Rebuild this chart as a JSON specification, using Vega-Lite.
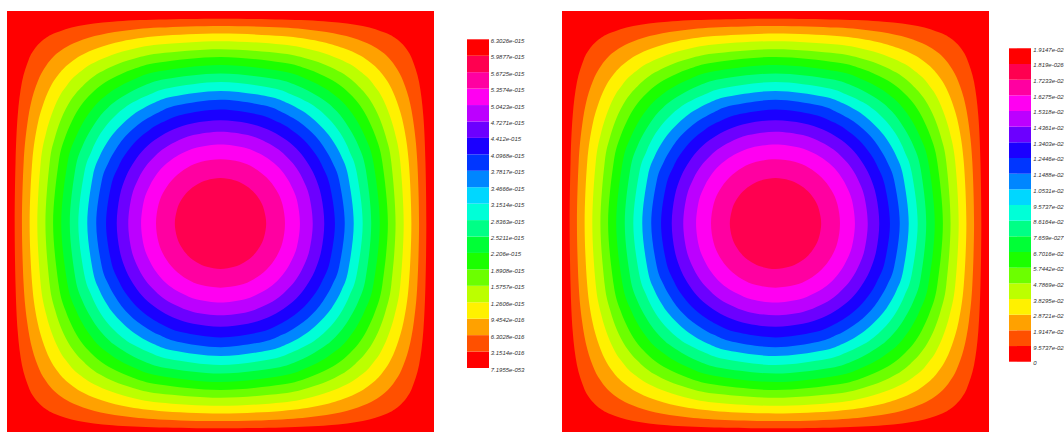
{
"$schema":"https://vega.github.io/schema/vega-lite/v6.json",
"background":"white",
"padding":{"left":7,"top":11,"right":0,"bottom":0},
"spacing":0,
"bounds":"flush",
"config":{"view":{"stroke":null},"concat":{"spacing":0}},
"datasets":{
"contours":[
{"k":1,"i":0,"x":18,"y":500},{"k":1,"i":1,"x":20,"y":356},{"k":1,"i":2,"x":25,"y":247},{"k":1,"i":3,"x":35,"y":167},{"k":1,"i":4,"x":51,"y":114},{"k":1,"i":5,"x":64,"y":90},{"k":1,"i":6,"x":76,"y":76},{"k":1,"i":7,"x":90,"y":64},{"k":1,"i":8,"x":114,"y":51},{"k":1,"i":9,"x":167,"y":35},{"k":1,"i":10,"x":247,"y":25},{"k":1,"i":11,"x":356,"y":20},{"k":1,"i":12,"x":500,"y":18},{"k":1,"i":13,"x":644,"y":20},{"k":1,"i":14,"x":753,"y":25},{"k":1,"i":15,"x":833,"y":35},{"k":1,"i":16,"x":886,"y":51},{"k":1,"i":17,"x":910,"y":64},{"k":1,"i":18,"x":924,"y":76},{"k":1,"i":19,"x":936,"y":90},{"k":1,"i":20,"x":949,"y":114},{"k":1,"i":21,"x":965,"y":167},{"k":1,"i":22,"x":975,"y":247},{"k":1,"i":23,"x":980,"y":356},{"k":1,"i":24,"x":982,"y":500},{"k":1,"i":25,"x":980,"y":644},{"k":1,"i":26,"x":975,"y":753},{"k":1,"i":27,"x":965,"y":833},{"k":1,"i":28,"x":949,"y":886},{"k":1,"i":29,"x":936,"y":910},{"k":1,"i":30,"x":924,"y":924},{"k":1,"i":31,"x":910,"y":936},{"k":1,"i":32,"x":886,"y":949},{"k":1,"i":33,"x":833,"y":965},{"k":1,"i":34,"x":753,"y":975},{"k":1,"i":35,"x":644,"y":980},{"k":1,"i":36,"x":500,"y":982},{"k":1,"i":37,"x":356,"y":980},{"k":1,"i":38,"x":247,"y":975},{"k":1,"i":39,"x":167,"y":965},{"k":1,"i":40,"x":114,"y":949},{"k":1,"i":41,"x":90,"y":936},{"k":1,"i":42,"x":76,"y":924},{"k":1,"i":43,"x":64,"y":910},{"k":1,"i":44,"x":51,"y":886},{"k":1,"i":45,"x":35,"y":833},{"k":1,"i":46,"x":25,"y":753},{"k":1,"i":47,"x":20,"y":644},
{"k":2,"i":0,"x":35,"y":500},{"k":2,"i":1,"x":39,"y":356},{"k":2,"i":2,"x":47,"y":270},{"k":2,"i":3,"x":59,"y":205},{"k":2,"i":4,"x":76,"y":156},{"k":2,"i":5,"x":92,"y":128},{"k":2,"i":6,"x":108,"y":108},{"k":2,"i":7,"x":128,"y":92},{"k":2,"i":8,"x":156,"y":76},{"k":2,"i":9,"x":205,"y":59},{"k":2,"i":10,"x":270,"y":47},{"k":2,"i":11,"x":356,"y":39},{"k":2,"i":12,"x":500,"y":35},{"k":2,"i":13,"x":644,"y":39},{"k":2,"i":14,"x":730,"y":47},{"k":2,"i":15,"x":795,"y":59},{"k":2,"i":16,"x":844,"y":76},{"k":2,"i":17,"x":872,"y":92},{"k":2,"i":18,"x":892,"y":108},{"k":2,"i":19,"x":908,"y":128},{"k":2,"i":20,"x":924,"y":156},{"k":2,"i":21,"x":941,"y":205},{"k":2,"i":22,"x":953,"y":270},{"k":2,"i":23,"x":961,"y":356},{"k":2,"i":24,"x":965,"y":500},{"k":2,"i":25,"x":961,"y":644},{"k":2,"i":26,"x":953,"y":730},{"k":2,"i":27,"x":941,"y":795},{"k":2,"i":28,"x":924,"y":844},{"k":2,"i":29,"x":908,"y":872},{"k":2,"i":30,"x":892,"y":892},{"k":2,"i":31,"x":872,"y":908},{"k":2,"i":32,"x":844,"y":924},{"k":2,"i":33,"x":795,"y":941},{"k":2,"i":34,"x":730,"y":953},{"k":2,"i":35,"x":644,"y":961},{"k":2,"i":36,"x":500,"y":965},{"k":2,"i":37,"x":356,"y":961},{"k":2,"i":38,"x":270,"y":953},{"k":2,"i":39,"x":205,"y":941},{"k":2,"i":40,"x":156,"y":924},{"k":2,"i":41,"x":128,"y":908},{"k":2,"i":42,"x":108,"y":892},{"k":2,"i":43,"x":92,"y":872},{"k":2,"i":44,"x":76,"y":844},{"k":2,"i":45,"x":59,"y":795},{"k":2,"i":46,"x":47,"y":730},{"k":2,"i":47,"x":39,"y":644},
{"k":3,"i":0,"x":53,"y":500},{"k":3,"i":1,"x":59,"y":356},{"k":3,"i":2,"x":71,"y":270},{"k":3,"i":3,"x":87,"y":213},{"k":3,"i":4,"x":104,"y":174},{"k":3,"i":5,"x":121,"y":149},{"k":3,"i":6,"x":134,"y":134},{"k":3,"i":7,"x":149,"y":121},{"k":3,"i":8,"x":174,"y":104},{"k":3,"i":9,"x":213,"y":87},{"k":3,"i":10,"x":270,"y":71},{"k":3,"i":11,"x":356,"y":59},{"k":3,"i":12,"x":500,"y":53},{"k":3,"i":13,"x":644,"y":59},{"k":3,"i":14,"x":730,"y":71},{"k":3,"i":15,"x":787,"y":87},{"k":3,"i":16,"x":826,"y":104},{"k":3,"i":17,"x":851,"y":121},{"k":3,"i":18,"x":866,"y":134},{"k":3,"i":19,"x":879,"y":149},{"k":3,"i":20,"x":896,"y":174},{"k":3,"i":21,"x":913,"y":213},{"k":3,"i":22,"x":929,"y":270},{"k":3,"i":23,"x":941,"y":356},{"k":3,"i":24,"x":947,"y":500},{"k":3,"i":25,"x":941,"y":644},{"k":3,"i":26,"x":929,"y":730},{"k":3,"i":27,"x":913,"y":787},{"k":3,"i":28,"x":896,"y":826},{"k":3,"i":29,"x":879,"y":851},{"k":3,"i":30,"x":866,"y":866},{"k":3,"i":31,"x":851,"y":879},{"k":3,"i":32,"x":826,"y":896},{"k":3,"i":33,"x":787,"y":913},{"k":3,"i":34,"x":730,"y":929},{"k":3,"i":35,"x":644,"y":941},{"k":3,"i":36,"x":500,"y":947},{"k":3,"i":37,"x":356,"y":941},{"k":3,"i":38,"x":270,"y":929},{"k":3,"i":39,"x":213,"y":913},{"k":3,"i":40,"x":174,"y":896},{"k":3,"i":41,"x":149,"y":879},{"k":3,"i":42,"x":134,"y":866},{"k":3,"i":43,"x":121,"y":851},{"k":3,"i":44,"x":104,"y":826},{"k":3,"i":45,"x":87,"y":787},{"k":3,"i":46,"x":71,"y":730},{"k":3,"i":47,"x":59,"y":644},
{"k":4,"i":0,"x":71,"y":500},{"k":4,"i":1,"x":79,"y":356},{"k":4,"i":2,"x":92,"y":285},{"k":4,"i":3,"x":108,"y":234},{"k":4,"i":4,"x":125,"y":197},{"k":4,"i":5,"x":141,"y":174},{"k":4,"i":6,"x":156,"y":156},{"k":4,"i":7,"x":174,"y":141},{"k":4,"i":8,"x":197,"y":125},{"k":4,"i":9,"x":234,"y":108},{"k":4,"i":10,"x":285,"y":92},{"k":4,"i":11,"x":356,"y":79},{"k":4,"i":12,"x":500,"y":71},{"k":4,"i":13,"x":644,"y":79},{"k":4,"i":14,"x":715,"y":92},{"k":4,"i":15,"x":766,"y":108},{"k":4,"i":16,"x":803,"y":125},{"k":4,"i":17,"x":826,"y":141},{"k":4,"i":18,"x":844,"y":156},{"k":4,"i":19,"x":859,"y":174},{"k":4,"i":20,"x":875,"y":197},{"k":4,"i":21,"x":892,"y":234},{"k":4,"i":22,"x":908,"y":285},{"k":4,"i":23,"x":921,"y":356},{"k":4,"i":24,"x":929,"y":500},{"k":4,"i":25,"x":921,"y":644},{"k":4,"i":26,"x":908,"y":715},{"k":4,"i":27,"x":892,"y":766},{"k":4,"i":28,"x":875,"y":803},{"k":4,"i":29,"x":859,"y":826},{"k":4,"i":30,"x":844,"y":844},{"k":4,"i":31,"x":826,"y":859},{"k":4,"i":32,"x":803,"y":875},{"k":4,"i":33,"x":766,"y":892},{"k":4,"i":34,"x":715,"y":908},{"k":4,"i":35,"x":644,"y":921},{"k":4,"i":36,"x":500,"y":929},{"k":4,"i":37,"x":356,"y":921},{"k":4,"i":38,"x":285,"y":908},{"k":4,"i":39,"x":234,"y":892},{"k":4,"i":40,"x":197,"y":875},{"k":4,"i":41,"x":174,"y":859},{"k":4,"i":42,"x":156,"y":844},{"k":4,"i":43,"x":141,"y":826},{"k":4,"i":44,"x":125,"y":803},{"k":4,"i":45,"x":108,"y":766},{"k":4,"i":46,"x":92,"y":715},{"k":4,"i":47,"x":79,"y":644},
{"k":5,"i":0,"x":90,"y":500},{"k":5,"i":1,"x":100,"y":356},{"k":5,"i":2,"x":113,"y":295},{"k":5,"i":3,"x":128,"y":251},{"k":5,"i":4,"x":145,"y":217},{"k":5,"i":5,"x":162,"y":193},{"k":5,"i":6,"x":177,"y":177},{"k":5,"i":7,"x":193,"y":162},{"k":5,"i":8,"x":217,"y":145},{"k":5,"i":9,"x":251,"y":128},{"k":5,"i":10,"x":295,"y":113},{"k":5,"i":11,"x":356,"y":100},{"k":5,"i":12,"x":500,"y":90},{"k":5,"i":13,"x":644,"y":100},{"k":5,"i":14,"x":705,"y":113},{"k":5,"i":15,"x":749,"y":128},{"k":5,"i":16,"x":783,"y":145},{"k":5,"i":17,"x":807,"y":162},{"k":5,"i":18,"x":823,"y":177},{"k":5,"i":19,"x":838,"y":193},{"k":5,"i":20,"x":855,"y":217},{"k":5,"i":21,"x":872,"y":251},{"k":5,"i":22,"x":887,"y":295},{"k":5,"i":23,"x":900,"y":356},{"k":5,"i":24,"x":910,"y":500},{"k":5,"i":25,"x":900,"y":644},{"k":5,"i":26,"x":887,"y":705},{"k":5,"i":27,"x":872,"y":749},{"k":5,"i":28,"x":855,"y":783},{"k":5,"i":29,"x":838,"y":807},{"k":5,"i":30,"x":823,"y":823},{"k":5,"i":31,"x":807,"y":838},{"k":5,"i":32,"x":783,"y":855},{"k":5,"i":33,"x":749,"y":872},{"k":5,"i":34,"x":705,"y":887},{"k":5,"i":35,"x":644,"y":900},{"k":5,"i":36,"x":500,"y":910},{"k":5,"i":37,"x":356,"y":900},{"k":5,"i":38,"x":295,"y":887},{"k":5,"i":39,"x":251,"y":872},{"k":5,"i":40,"x":217,"y":855},{"k":5,"i":41,"x":193,"y":838},{"k":5,"i":42,"x":177,"y":823},{"k":5,"i":43,"x":162,"y":807},{"k":5,"i":44,"x":145,"y":783},{"k":5,"i":45,"x":128,"y":749},{"k":5,"i":46,"x":113,"y":705},{"k":5,"i":47,"x":100,"y":644},
{"k":6,"i":0,"x":108,"y":500},{"k":6,"i":1,"x":121,"y":356},{"k":6,"i":2,"x":137,"y":295},{"k":6,"i":3,"x":158,"y":247},{"k":6,"i":4,"x":177,"y":217},{"k":6,"i":5,"x":196,"y":196},{"k":6,"i":6,"x":217,"y":177},{"k":6,"i":7,"x":247,"y":158},{"k":6,"i":8,"x":295,"y":137},{"k":6,"i":9,"x":356,"y":121},{"k":6,"i":10,"x":500,"y":108},{"k":6,"i":11,"x":644,"y":121},{"k":6,"i":12,"x":705,"y":137},{"k":6,"i":13,"x":753,"y":158},{"k":6,"i":14,"x":783,"y":177},{"k":6,"i":15,"x":804,"y":196},{"k":6,"i":16,"x":823,"y":217},{"k":6,"i":17,"x":842,"y":247},{"k":6,"i":18,"x":863,"y":295},{"k":6,"i":19,"x":879,"y":356},{"k":6,"i":20,"x":892,"y":500},{"k":6,"i":21,"x":879,"y":644},{"k":6,"i":22,"x":863,"y":705},{"k":6,"i":23,"x":842,"y":753},{"k":6,"i":24,"x":823,"y":783},{"k":6,"i":25,"x":804,"y":804},{"k":6,"i":26,"x":783,"y":823},{"k":6,"i":27,"x":753,"y":842},{"k":6,"i":28,"x":705,"y":863},{"k":6,"i":29,"x":644,"y":879},{"k":6,"i":30,"x":500,"y":892},{"k":6,"i":31,"x":356,"y":879},{"k":6,"i":32,"x":295,"y":863},{"k":6,"i":33,"x":247,"y":842},{"k":6,"i":34,"x":217,"y":823},{"k":6,"i":35,"x":196,"y":804},{"k":6,"i":36,"x":177,"y":783},{"k":6,"i":37,"x":158,"y":753},{"k":6,"i":38,"x":137,"y":705},{"k":6,"i":39,"x":121,"y":644},
{"k":7,"i":0,"x":127,"y":500},{"k":7,"i":1,"x":142,"y":356},{"k":7,"i":2,"x":162,"y":295},{"k":7,"i":3,"x":182,"y":256},{"k":7,"i":4,"x":201,"y":229},{"k":7,"i":5,"x":214,"y":214},{"k":7,"i":6,"x":229,"y":201},{"k":7,"i":7,"x":256,"y":182},{"k":7,"i":8,"x":295,"y":162},{"k":7,"i":9,"x":356,"y":142},{"k":7,"i":10,"x":500,"y":127},{"k":7,"i":11,"x":644,"y":142},{"k":7,"i":12,"x":705,"y":162},{"k":7,"i":13,"x":744,"y":182},{"k":7,"i":14,"x":771,"y":201},{"k":7,"i":15,"x":786,"y":214},{"k":7,"i":16,"x":799,"y":229},{"k":7,"i":17,"x":818,"y":256},{"k":7,"i":18,"x":838,"y":295},{"k":7,"i":19,"x":858,"y":356},{"k":7,"i":20,"x":873,"y":500},{"k":7,"i":21,"x":858,"y":644},{"k":7,"i":22,"x":838,"y":705},{"k":7,"i":23,"x":818,"y":744},{"k":7,"i":24,"x":799,"y":771},{"k":7,"i":25,"x":786,"y":786},{"k":7,"i":26,"x":771,"y":799},{"k":7,"i":27,"x":744,"y":818},{"k":7,"i":28,"x":705,"y":838},{"k":7,"i":29,"x":644,"y":858},{"k":7,"i":30,"x":500,"y":873},{"k":7,"i":31,"x":356,"y":858},{"k":7,"i":32,"x":295,"y":838},{"k":7,"i":33,"x":256,"y":818},{"k":7,"i":34,"x":229,"y":799},{"k":7,"i":35,"x":214,"y":786},{"k":7,"i":36,"x":201,"y":771},{"k":7,"i":37,"x":182,"y":744},{"k":7,"i":38,"x":162,"y":705},{"k":7,"i":39,"x":142,"y":644},
{"k":8,"i":0,"x":147,"y":500},{"k":8,"i":1,"x":160,"y":372},{"k":8,"i":2,"x":177,"y":317},{"k":8,"i":3,"x":196,"y":280},{"k":8,"i":4,"x":215,"y":251},{"k":8,"i":5,"x":232,"y":232},{"k":8,"i":6,"x":251,"y":215},{"k":8,"i":7,"x":280,"y":196},{"k":8,"i":8,"x":317,"y":177},{"k":8,"i":9,"x":372,"y":160},{"k":8,"i":10,"x":500,"y":147},{"k":8,"i":11,"x":628,"y":160},{"k":8,"i":12,"x":683,"y":177},{"k":8,"i":13,"x":720,"y":196},{"k":8,"i":14,"x":749,"y":215},{"k":8,"i":15,"x":768,"y":232},{"k":8,"i":16,"x":785,"y":251},{"k":8,"i":17,"x":804,"y":280},{"k":8,"i":18,"x":823,"y":317},{"k":8,"i":19,"x":840,"y":372},{"k":8,"i":20,"x":853,"y":500},{"k":8,"i":21,"x":840,"y":628},{"k":8,"i":22,"x":823,"y":683},{"k":8,"i":23,"x":804,"y":720},{"k":8,"i":24,"x":785,"y":749},{"k":8,"i":25,"x":768,"y":768},{"k":8,"i":26,"x":749,"y":785},{"k":8,"i":27,"x":720,"y":804},{"k":8,"i":28,"x":683,"y":823},{"k":8,"i":29,"x":628,"y":840},{"k":8,"i":30,"x":500,"y":853},{"k":8,"i":31,"x":372,"y":840},{"k":8,"i":32,"x":317,"y":823},{"k":8,"i":33,"x":280,"y":804},{"k":8,"i":34,"x":251,"y":785},{"k":8,"i":35,"x":232,"y":768},{"k":8,"i":36,"x":215,"y":749},{"k":8,"i":37,"x":196,"y":720},{"k":8,"i":38,"x":177,"y":683},{"k":8,"i":39,"x":160,"y":628},
{"k":9,"i":0,"x":167,"y":500},{"k":9,"i":1,"x":181,"y":380},{"k":9,"i":2,"x":198,"y":330},{"k":9,"i":3,"x":215,"y":295},{"k":9,"i":4,"x":232,"y":270},{"k":9,"i":5,"x":250,"y":250},{"k":9,"i":6,"x":270,"y":232},{"k":9,"i":7,"x":295,"y":215},{"k":9,"i":8,"x":330,"y":198},{"k":9,"i":9,"x":380,"y":181},{"k":9,"i":10,"x":500,"y":167},{"k":9,"i":11,"x":620,"y":181},{"k":9,"i":12,"x":670,"y":198},{"k":9,"i":13,"x":705,"y":215},{"k":9,"i":14,"x":730,"y":232},{"k":9,"i":15,"x":750,"y":250},{"k":9,"i":16,"x":768,"y":270},{"k":9,"i":17,"x":785,"y":295},{"k":9,"i":18,"x":802,"y":330},{"k":9,"i":19,"x":819,"y":380},{"k":9,"i":20,"x":833,"y":500},{"k":9,"i":21,"x":819,"y":620},{"k":9,"i":22,"x":802,"y":670},{"k":9,"i":23,"x":785,"y":705},{"k":9,"i":24,"x":768,"y":730},{"k":9,"i":25,"x":750,"y":750},{"k":9,"i":26,"x":730,"y":768},{"k":9,"i":27,"x":705,"y":785},{"k":9,"i":28,"x":670,"y":802},{"k":9,"i":29,"x":620,"y":819},{"k":9,"i":30,"x":500,"y":833},{"k":9,"i":31,"x":380,"y":819},{"k":9,"i":32,"x":330,"y":802},{"k":9,"i":33,"x":295,"y":785},{"k":9,"i":34,"x":270,"y":768},{"k":9,"i":35,"x":250,"y":750},{"k":9,"i":36,"x":232,"y":730},{"k":9,"i":37,"x":215,"y":705},{"k":9,"i":38,"x":198,"y":670},{"k":9,"i":39,"x":181,"y":620},
{"k":10,"i":0,"x":188,"y":500},{"k":10,"i":1,"x":201,"y":389},{"k":10,"i":2,"x":217,"y":342},{"k":10,"i":3,"x":233,"y":312},{"k":10,"i":4,"x":248,"y":290},{"k":10,"i":5,"x":268,"y":268},{"k":10,"i":6,"x":290,"y":248},{"k":10,"i":7,"x":312,"y":233},{"k":10,"i":8,"x":342,"y":217},{"k":10,"i":9,"x":389,"y":201},{"k":10,"i":10,"x":500,"y":188},{"k":10,"i":11,"x":611,"y":201},{"k":10,"i":12,"x":658,"y":217},{"k":10,"i":13,"x":688,"y":233},{"k":10,"i":14,"x":710,"y":248},{"k":10,"i":15,"x":732,"y":268},{"k":10,"i":16,"x":752,"y":290},{"k":10,"i":17,"x":767,"y":312},{"k":10,"i":18,"x":783,"y":342},{"k":10,"i":19,"x":799,"y":389},{"k":10,"i":20,"x":812,"y":500},{"k":10,"i":21,"x":799,"y":611},{"k":10,"i":22,"x":783,"y":658},{"k":10,"i":23,"x":767,"y":688},{"k":10,"i":24,"x":752,"y":710},{"k":10,"i":25,"x":732,"y":732},{"k":10,"i":26,"x":710,"y":752},{"k":10,"i":27,"x":688,"y":767},{"k":10,"i":28,"x":658,"y":783},{"k":10,"i":29,"x":611,"y":799},{"k":10,"i":30,"x":500,"y":812},{"k":10,"i":31,"x":389,"y":799},{"k":10,"i":32,"x":342,"y":783},{"k":10,"i":33,"x":312,"y":767},{"k":10,"i":34,"x":290,"y":752},{"k":10,"i":35,"x":268,"y":732},{"k":10,"i":36,"x":248,"y":710},{"k":10,"i":37,"x":233,"y":688},{"k":10,"i":38,"x":217,"y":658},{"k":10,"i":39,"x":201,"y":611},
{"k":11,"i":0,"x":209,"y":500},{"k":11,"i":1,"x":222,"y":399},{"k":11,"i":2,"x":238,"y":356},{"k":11,"i":3,"x":252,"y":330},{"k":11,"i":4,"x":268,"y":306},{"k":11,"i":5,"x":286,"y":286},{"k":11,"i":6,"x":306,"y":268},{"k":11,"i":7,"x":330,"y":252},{"k":11,"i":8,"x":356,"y":238},{"k":11,"i":9,"x":399,"y":222},{"k":11,"i":10,"x":500,"y":209},{"k":11,"i":11,"x":601,"y":222},{"k":11,"i":12,"x":644,"y":238},{"k":11,"i":13,"x":670,"y":252},{"k":11,"i":14,"x":694,"y":268},{"k":11,"i":15,"x":714,"y":286},{"k":11,"i":16,"x":732,"y":306},{"k":11,"i":17,"x":748,"y":330},{"k":11,"i":18,"x":762,"y":356},{"k":11,"i":19,"x":778,"y":399},{"k":11,"i":20,"x":791,"y":500},{"k":11,"i":21,"x":778,"y":601},{"k":11,"i":22,"x":762,"y":644},{"k":11,"i":23,"x":748,"y":670},{"k":11,"i":24,"x":732,"y":694},{"k":11,"i":25,"x":714,"y":714},{"k":11,"i":26,"x":694,"y":732},{"k":11,"i":27,"x":670,"y":748},{"k":11,"i":28,"x":644,"y":762},{"k":11,"i":29,"x":601,"y":778},{"k":11,"i":30,"x":500,"y":791},{"k":11,"i":31,"x":399,"y":778},{"k":11,"i":32,"x":356,"y":762},{"k":11,"i":33,"x":330,"y":748},{"k":11,"i":34,"x":306,"y":732},{"k":11,"i":35,"x":286,"y":714},{"k":11,"i":36,"x":268,"y":694},{"k":11,"i":37,"x":252,"y":670},{"k":11,"i":38,"x":238,"y":644},{"k":11,"i":39,"x":222,"y":601},
{"k":12,"i":0,"x":232,"y":500},{"k":12,"i":1,"x":244,"y":410},{"k":12,"i":2,"x":262,"y":364},{"k":12,"i":3,"x":278,"y":336},{"k":12,"i":4,"x":304,"y":304},{"k":12,"i":5,"x":336,"y":278},{"k":12,"i":6,"x":364,"y":262},{"k":12,"i":7,"x":410,"y":244},{"k":12,"i":8,"x":500,"y":232},{"k":12,"i":9,"x":590,"y":244},{"k":12,"i":10,"x":636,"y":262},{"k":12,"i":11,"x":664,"y":278},{"k":12,"i":12,"x":696,"y":304},{"k":12,"i":13,"x":722,"y":336},{"k":12,"i":14,"x":738,"y":364},{"k":12,"i":15,"x":756,"y":410},{"k":12,"i":16,"x":768,"y":500},{"k":12,"i":17,"x":756,"y":590},{"k":12,"i":18,"x":738,"y":636},{"k":12,"i":19,"x":722,"y":664},{"k":12,"i":20,"x":696,"y":696},{"k":12,"i":21,"x":664,"y":722},{"k":12,"i":22,"x":636,"y":738},{"k":12,"i":23,"x":590,"y":756},{"k":12,"i":24,"x":500,"y":768},{"k":12,"i":25,"x":410,"y":756},{"k":12,"i":26,"x":364,"y":738},{"k":12,"i":27,"x":336,"y":722},{"k":12,"i":28,"x":304,"y":696},{"k":12,"i":29,"x":278,"y":664},{"k":12,"i":30,"x":262,"y":636},{"k":12,"i":31,"x":244,"y":590},
{"k":13,"i":0,"x":257,"y":500},{"k":13,"i":1,"x":264,"y":436},{"k":13,"i":2,"x":279,"y":389},{"k":13,"i":3,"x":299,"y":353},{"k":13,"i":4,"x":323,"y":323},{"k":13,"i":5,"x":353,"y":299},{"k":13,"i":6,"x":389,"y":279},{"k":13,"i":7,"x":436,"y":264},{"k":13,"i":8,"x":500,"y":257},{"k":13,"i":9,"x":564,"y":264},{"k":13,"i":10,"x":611,"y":279},{"k":13,"i":11,"x":647,"y":299},{"k":13,"i":12,"x":677,"y":323},{"k":13,"i":13,"x":701,"y":353},{"k":13,"i":14,"x":721,"y":389},{"k":13,"i":15,"x":736,"y":436},{"k":13,"i":16,"x":743,"y":500},{"k":13,"i":17,"x":736,"y":564},{"k":13,"i":18,"x":721,"y":611},{"k":13,"i":19,"x":701,"y":647},{"k":13,"i":20,"x":677,"y":677},{"k":13,"i":21,"x":647,"y":701},{"k":13,"i":22,"x":611,"y":721},{"k":13,"i":23,"x":564,"y":736},{"k":13,"i":24,"x":500,"y":743},{"k":13,"i":25,"x":436,"y":736},{"k":13,"i":26,"x":389,"y":721},{"k":13,"i":27,"x":353,"y":701},{"k":13,"i":28,"x":323,"y":677},{"k":13,"i":29,"x":299,"y":647},{"k":13,"i":30,"x":279,"y":611},{"k":13,"i":31,"x":264,"y":564},
{"k":14,"i":0,"x":284,"y":500},{"k":14,"i":1,"x":292,"y":436},{"k":14,"i":2,"x":308,"y":394},{"k":14,"i":3,"x":326,"y":364},{"k":14,"i":4,"x":344,"y":344},{"k":14,"i":5,"x":364,"y":326},{"k":14,"i":6,"x":394,"y":308},{"k":14,"i":7,"x":436,"y":292},{"k":14,"i":8,"x":500,"y":284},{"k":14,"i":9,"x":564,"y":292},{"k":14,"i":10,"x":606,"y":308},{"k":14,"i":11,"x":636,"y":326},{"k":14,"i":12,"x":656,"y":344},{"k":14,"i":13,"x":674,"y":364},{"k":14,"i":14,"x":692,"y":394},{"k":14,"i":15,"x":708,"y":436},{"k":14,"i":16,"x":716,"y":500},{"k":14,"i":17,"x":708,"y":564},{"k":14,"i":18,"x":692,"y":606},{"k":14,"i":19,"x":674,"y":636},{"k":14,"i":20,"x":656,"y":656},{"k":14,"i":21,"x":636,"y":674},{"k":14,"i":22,"x":606,"y":692},{"k":14,"i":23,"x":564,"y":708},{"k":14,"i":24,"x":500,"y":716},{"k":14,"i":25,"x":436,"y":708},{"k":14,"i":26,"x":394,"y":692},{"k":14,"i":27,"x":364,"y":674},{"k":14,"i":28,"x":344,"y":656},{"k":14,"i":29,"x":326,"y":636},{"k":14,"i":30,"x":308,"y":606},{"k":14,"i":31,"x":292,"y":564},
{"k":15,"i":0,"x":314,"y":500},{"k":15,"i":1,"x":321,"y":445},{"k":15,"i":2,"x":335,"y":410},{"k":15,"i":3,"x":350,"y":385},{"k":15,"i":4,"x":366,"y":366},{"k":15,"i":5,"x":385,"y":350},{"k":15,"i":6,"x":410,"y":335},{"k":15,"i":7,"x":445,"y":321},{"k":15,"i":8,"x":500,"y":314},{"k":15,"i":9,"x":555,"y":321},{"k":15,"i":10,"x":590,"y":335},{"k":15,"i":11,"x":615,"y":350},{"k":15,"i":12,"x":634,"y":366},{"k":15,"i":13,"x":650,"y":385},{"k":15,"i":14,"x":665,"y":410},{"k":15,"i":15,"x":679,"y":445},{"k":15,"i":16,"x":686,"y":500},{"k":15,"i":17,"x":679,"y":555},{"k":15,"i":18,"x":665,"y":590},{"k":15,"i":19,"x":650,"y":615},{"k":15,"i":20,"x":634,"y":634},{"k":15,"i":21,"x":615,"y":650},{"k":15,"i":22,"x":590,"y":665},{"k":15,"i":23,"x":555,"y":679},{"k":15,"i":24,"x":500,"y":686},{"k":15,"i":25,"x":445,"y":679},{"k":15,"i":26,"x":410,"y":665},{"k":15,"i":27,"x":385,"y":650},{"k":15,"i":28,"x":366,"y":634},{"k":15,"i":29,"x":350,"y":615},{"k":15,"i":30,"x":335,"y":590},{"k":15,"i":31,"x":321,"y":555},
{"k":16,"i":0,"x":349,"y":500},{"k":16,"i":1,"x":355,"y":455},{"k":16,"i":2,"x":369,"y":422},{"k":16,"i":3,"x":392,"y":392},{"k":16,"i":4,"x":422,"y":369},{"k":16,"i":5,"x":455,"y":355},{"k":16,"i":6,"x":500,"y":349},{"k":16,"i":7,"x":545,"y":355},{"k":16,"i":8,"x":578,"y":369},{"k":16,"i":9,"x":608,"y":392},{"k":16,"i":10,"x":631,"y":422},{"k":16,"i":11,"x":645,"y":455},{"k":16,"i":12,"x":651,"y":500},{"k":16,"i":13,"x":645,"y":545},{"k":16,"i":14,"x":631,"y":578},{"k":16,"i":15,"x":608,"y":608},{"k":16,"i":16,"x":578,"y":631},{"k":16,"i":17,"x":545,"y":645},{"k":16,"i":18,"x":500,"y":651},{"k":16,"i":19,"x":455,"y":645},{"k":16,"i":20,"x":422,"y":631},{"k":16,"i":21,"x":392,"y":608},{"k":16,"i":22,"x":369,"y":578},{"k":16,"i":23,"x":355,"y":545},
{"k":17,"i":0,"x":393,"y":500},{"k":17,"i":1,"x":398,"y":468},{"k":17,"i":2,"x":408,"y":445},{"k":17,"i":3,"x":424,"y":424},{"k":17,"i":4,"x":445,"y":408},{"k":17,"i":5,"x":468,"y":398},{"k":17,"i":6,"x":500,"y":393},{"k":17,"i":7,"x":532,"y":398},{"k":17,"i":8,"x":555,"y":408},{"k":17,"i":9,"x":576,"y":424},{"k":17,"i":10,"x":592,"y":445},{"k":17,"i":11,"x":602,"y":468},{"k":17,"i":12,"x":607,"y":500},{"k":17,"i":13,"x":602,"y":532},{"k":17,"i":14,"x":592,"y":555},{"k":17,"i":15,"x":576,"y":576},{"k":17,"i":16,"x":555,"y":592},{"k":17,"i":17,"x":532,"y":602},{"k":17,"i":18,"x":500,"y":607},{"k":17,"i":19,"x":468,"y":602},{"k":17,"i":20,"x":445,"y":592},{"k":17,"i":21,"x":424,"y":576},{"k":17,"i":22,"x":408,"y":555},{"k":17,"i":23,"x":398,"y":532}
],
"blocks":[
{"lo":0,"hi":1},{"lo":1,"hi":2},{"lo":2,"hi":3},{"lo":3,"hi":4},{"lo":4,"hi":5},{"lo":5,"hi":6},{"lo":6,"hi":7},{"lo":7,"hi":8},{"lo":8,"hi":9},{"lo":9,"hi":10},{"lo":10,"hi":11},{"lo":11,"hi":12},{"lo":12,"hi":13},{"lo":13,"hi":14},{"lo":14,"hi":15},{"lo":15,"hi":16},{"lo":16,"hi":17},{"lo":17,"hi":18},{"lo":18,"hi":19},{"lo":19,"hi":20}
],
"labelsL":[
{"j":20,"t":"6.3026e-015"},{"j":19,"t":"5.9877e-015"},{"j":18,"t":"5.6725e-015"},{"j":17,"t":"5.3574e-015"},{"j":16,"t":"5.0423e-015"},{"j":15,"t":"4.7271e-015"},{"j":14,"t":"4.412e-015"},{"j":13,"t":"4.0968e-015"},{"j":12,"t":"3.7817e-015"},{"j":11,"t":"3.4666e-015"},{"j":10,"t":"3.1514e-015"},{"j":9,"t":"2.8363e-015"},{"j":8,"t":"2.5211e-015"},{"j":7,"t":"2.206e-015"},{"j":6,"t":"1.8908e-015"},{"j":5,"t":"1.5757e-015"},{"j":4,"t":"1.2606e-015"},{"j":3,"t":"9.4542e-016"},{"j":2,"t":"6.3028e-016"},{"j":1,"t":"3.1514e-016"},{"j":0,"t":"7.1955e-053"}
],
"labelsR":[
{"j":20,"t":"1.9147e-026"},{"j":19,"t":"1.819e-026"},{"j":18,"t":"1.7233e-026"},{"j":17,"t":"1.6275e-026"},{"j":16,"t":"1.5318e-026"},{"j":15,"t":"1.4361e-026"},{"j":14,"t":"1.3403e-026"},{"j":13,"t":"1.2446e-026"},{"j":12,"t":"1.1488e-026"},{"j":11,"t":"1.0531e-026"},{"j":10,"t":"9.5737e-027"},{"j":9,"t":"8.6164e-027"},{"j":8,"t":"7.659e-027"},{"j":7,"t":"6.7016e-027"},{"j":6,"t":"5.7442e-027"},{"j":5,"t":"4.7869e-027"},{"j":4,"t":"3.8295e-027"},{"j":3,"t":"2.8721e-027"},{"j":2,"t":"1.9147e-027"},{"j":1,"t":"9.5737e-028"},{"j":0,"t":"0"}
]
},
"hconcat":[
{
"width":427,"height":421,
"view":{"fill":"#ff0000","stroke":null},
"data":{"name":"contours"},
"mark":{"type":"line","filled":true,"interpolate":"cardinal-closed","clip":true,"opacity":1,"strokeWidth":0},
"encoding":{
"x":{"field":"x","type":"quantitative","scale":{"domain":[0,1000],"nice":false,"zero":false},"axis":null},
"y":{"field":"y","type":"quantitative","scale":{"domain":[9.4,1000],"nice":false,"zero":false},"axis":null},
"color":{"field":"k","type":"ordinal","scale":{"domain":[1,2,3,4,5,6,7,8,9,10,11,12,13,14,15,16,17],"range":["#ff5000","#ffa100","#fff100","#bcff00","#6cff00","#1bff00","#00ff36","#00ff86","#00ffd7","#0086ff","#0036ff","#1b00ff","#6c00ff","#bc00ff","#ff00f1","#ff00a1","#ff0050"]},"legend":null},
"order":{"field":"i","type":"quantitative"}
}
},
{
"width":128,"height":421,
"layer":[
{"data":{"name":"blocks"},
"mark":{"type":"rect"},
"encoding":{
"x":{"datum":0,"type":"quantitative","scale":{"domain":[-1.5,4.318],"nice":false,"zero":false},"axis":null},
"x2":{"datum":1},
"y":{"field":"lo","type":"quantitative","scale":{"domain":[-3.894,21.722],"nice":false,"zero":false},"axis":null},
"y2":{"field":"hi"},
"color":{"field":"lo","type":"ordinal","scale":{"domain":[0,1,2,3,4,5,6,7,8,9,10,11,12,13,14,15,16,17,18,19],"range":["#ff0000","#ff5000","#ffa100","#fff100","#bcff00","#6cff00","#1bff00","#00ff36","#00ff86","#00ffd7","#00d7ff","#0086ff","#0036ff","#1b00ff","#6c00ff","#bc00ff","#ff00f1","#ff00a1","#ff0050","#ff0000"]},"legend":null}
}},
{"data":{"name":"labelsL"},
"mark":{"type":"text","align":"left","baseline":"middle","font":"Liberation Sans","fontSize":6,"fontStyle":"italic","color":"#333333","dy":1.5},
"encoding":{
"x":{"datum":1.08,"type":"quantitative"},
"y":{"field":"j","type":"quantitative"},
"text":{"field":"t"}
}}
]
},
{
"width":427,"height":421,
"view":{"fill":"#ff0000","stroke":null},
"data":{"name":"contours"},
"mark":{"type":"line","filled":true,"interpolate":"cardinal-closed","clip":true,"opacity":1,"strokeWidth":0},
"encoding":{
"x":{"field":"x","type":"quantitative","scale":{"domain":[0,1000],"nice":false,"zero":false},"axis":null},
"y":{"field":"y","type":"quantitative","scale":{"domain":[9.4,1000],"nice":false,"zero":false},"axis":null},
"color":{"field":"k","type":"ordinal","scale":{"domain":[1,2,3,4,5,6,7,8,9,10,11,12,13,14,15,16,17],"range":["#ff5000","#ffa100","#fff100","#bcff00","#6cff00","#1bff00","#00ff36","#00ff86","#00ffd7","#0086ff","#0036ff","#1b00ff","#6c00ff","#bc00ff","#ff00f1","#ff00a1","#ff0050"]},"legend":null},
"order":{"field":"i","type":"quantitative"}
}
},
{
"width":75,"height":421,
"layer":[
{"data":{"name":"blocks"},
"mark":{"type":"rect"},
"encoding":{
"x":{"datum":0,"type":"quantitative","scale":{"domain":[-0.909,2.5],"nice":false,"zero":false},"axis":null},
"x2":{"datum":1},
"y":{"field":"lo","type":"quantitative","scale":{"domain":[-4.486,22.381],"nice":false,"zero":false},"axis":null},
"y2":{"field":"hi"},
"color":{"field":"lo","type":"ordinal","scale":{"domain":[0,1,2,3,4,5,6,7,8,9,10,11,12,13,14,15,16,17,18,19],"range":["#ff0000","#ff5000","#ffa100","#fff100","#bcff00","#6cff00","#1bff00","#00ff36","#00ff86","#00ffd7","#00d7ff","#0086ff","#0036ff","#1b00ff","#6c00ff","#bc00ff","#ff00f1","#ff00a1","#ff0050","#ff0000"]},"legend":null}
}},
{"data":{"name":"labelsR"},
"mark":{"type":"text","align":"left","baseline":"middle","font":"Liberation Sans","fontSize":6,"fontStyle":"italic","color":"#333333","dy":1.5,"clip":true},
"encoding":{
"x":{"datum":1.105,"type":"quantitative"},
"y":{"field":"j","type":"quantitative"},
"text":{"field":"t"}
}}
]
}
],
"resolve":{"scale":{"color":"independent","x":"independent","y":"independent"}}
}
